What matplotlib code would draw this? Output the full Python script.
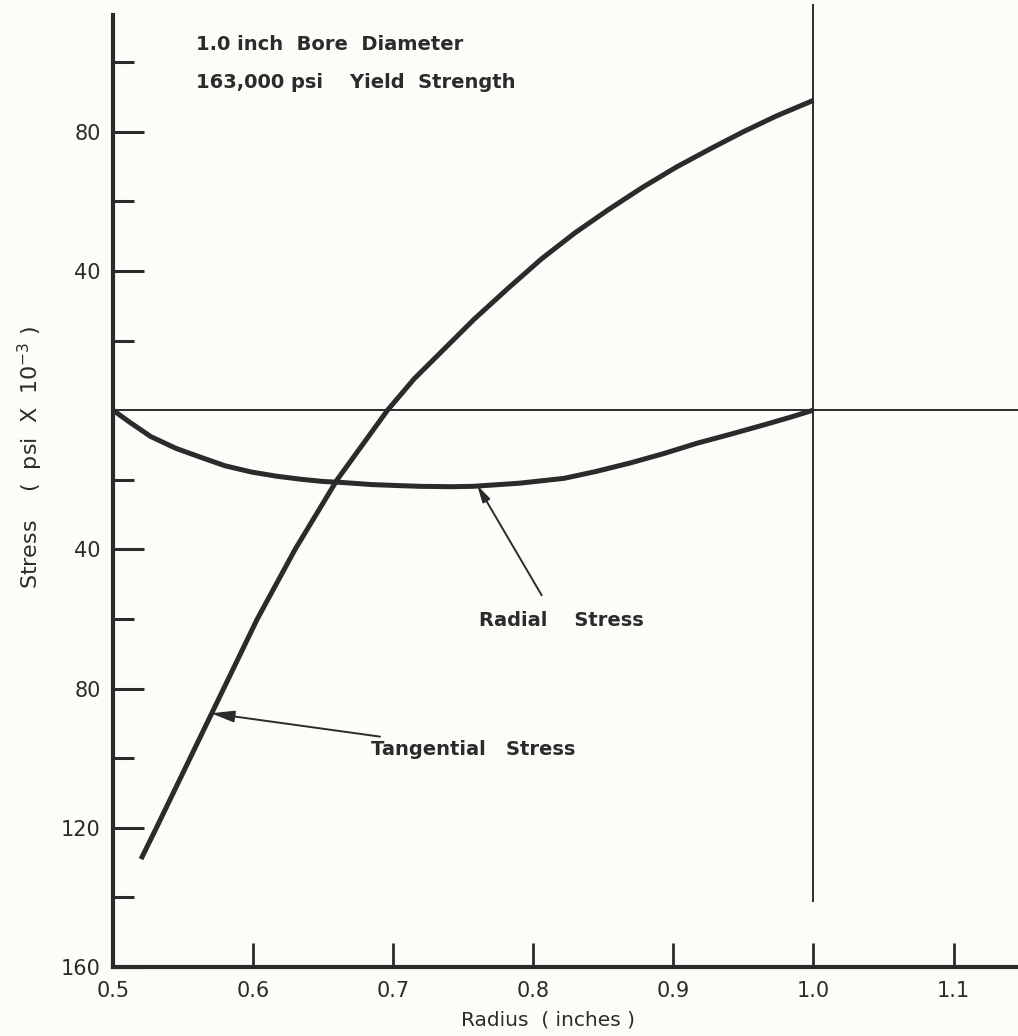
import numpy as np
import matplotlib
matplotlib.use("Agg")
import matplotlib.pyplot as plt

# values (radius in inches, stress in ksi)
tang_r = [0.520, 0.531, 0.555, 0.579, 0.603, 0.630, 0.660, 0.696, 0.715, 0.735, 0.758,
          0.782, 0.806, 0.830, 0.854, 0.878, 0.902, 0.926, 0.950, 0.974, 1.000]
tang_s = [-129, -120, -100, -80, -60, -40, -20, 0, 9, 17, 26.2,
          35, 43.5, 51, 57.7, 64, 69.8, 75, 80.0, 84.6, 89]

rad_r = [0.500, 0.512, 0.527, 0.545, 0.563, 0.580, 0.599, 0.617, 0.635, 0.650, 0.664,
         0.685, 0.705, 0.720, 0.741, 0.757, 0.790, 0.822, 0.845, 0.869, 0.893, 0.917,
         0.941, 0.965, 0.983, 1.000]
rad_s = [0, -3.5, -7.6, -11.0, -13.6, -16.0, -17.8, -19.0, -19.9, -20.5, -20.8,
         -21.4, -21.7, -21.9, -22.0, -21.9, -21.0, -19.6, -17.6, -15.2, -12.5, -9.5,
         -6.9, -4.2, -2.1, 0]

x_ticks = [0.5, 0.6, 0.7, 0.8, 0.9, 1.0, 1.1]
x_labels = ["0.5", "0.6", "0.7", "0.8", "0.9", "1.0", "1.1"]
y_major = [80, 40, -40, -80, -120, -160]
y_labels = ["80", "40", "40", "80", "120", "160"]
y_minor = [100, 60, 20, -20, -60, -100, -140]

ink = "#2b2b2b"
paper = "#fcfcf8"

plt.rcParams["font.family"] = ["DejaVu Sans"]

fig = plt.figure(figsize=(10.18, 10.36), dpi=100, facecolor=paper)
ax = fig.add_axes([113 / 1018, 1 - 967 / 1036, 905 / 1018, 962 / 1036])
ax.set_facecolor(paper)

ax.set_xlim(0.5, 1.146)
ax.set_ylim(-160, 116.4)

# reference lines
ax.axhline(0, color=ink, lw=1.4)
ax.plot([1.0, 1.0], [-141, 116.4], color=ink, lw=1.4, clip_on=False)

# stress curves
ax.plot(tang_r, tang_s, color=ink, lw=3.6, solid_capstyle="butt", solid_joinstyle="round")
ax.plot(rad_r, rad_s, color=ink, lw=3.6, solid_capstyle="butt", solid_joinstyle="round")

# spines
for s in ["top", "right"]:
    ax.spines[s].set_visible(False)
ax.spines["left"].set_linewidth(3)
ax.spines["bottom"].set_linewidth(3)
ax.spines["left"].set_color(ink)
ax.spines["bottom"].set_color(ink)
ax.spines["left"].set_bounds(-160, 113.5)

ax.set_xticks(x_ticks)
ax.set_xticklabels(x_labels)
ax.set_yticks(y_major)
ax.set_yticklabels(y_labels)
ax.set_yticks(y_minor, minor=True)
ax.tick_params(axis="x", direction="in", length=17, width=2, color=ink,
               labelsize=15, labelcolor=ink, pad=10)
ax.tick_params(axis="y", which="major", direction="in", length=22, width=2.2, color=ink,
               labelsize=15, labelcolor=ink, pad=9)
ax.tick_params(axis="y", which="minor", direction="in", length=15, width=2.2, color=ink)

# text annotations
ax.text(0.559, 105.0, "1.0 inch  Bore  Diameter", fontsize=14, fontweight="bold",
        color=ink, va="center", ha="left")
ax.text(0.559, 94.2, "163,000 psi    Yield  Strength", fontsize=14, fontweight="bold",
        color=ink, va="center", ha="left")

ax.annotate("Tangential   Stress", xy=(0.570, -87.1), xytext=(0.684, -97.5),
            fontsize=14, fontweight="bold", color=ink, va="center", ha="left",
            arrowprops=dict(arrowstyle="-|>,head_length=1.0,head_width=0.25",
                            color=ink, lw=1.4, shrinkA=3, shrinkB=0))
ax.annotate("", xy=(0.760, -21.6), xytext=(0.806, -53.2),
            arrowprops=dict(arrowstyle="-|>,head_length=1.0,head_width=0.25",
                            color=ink, lw=1.4, shrinkA=0, shrinkB=0))
ax.text(0.761, -60.5, "Radial    Stress", fontsize=14, fontweight="bold",
        color=ink, va="center", ha="left")

fig.text(548 / 1018, 1 - 1020 / 1036, "Radius  ( inches )", fontsize=14.5, color=ink,
         ha="center", va="center")
fig.text(30 / 1018, 1 - 457 / 1036, r"Stress    (  psi  X  10$^{-3}$ )", fontsize=16,
         color=ink, ha="center", va="center", rotation=90)

fig.savefig("out.png", dpi=100, facecolor=paper)
